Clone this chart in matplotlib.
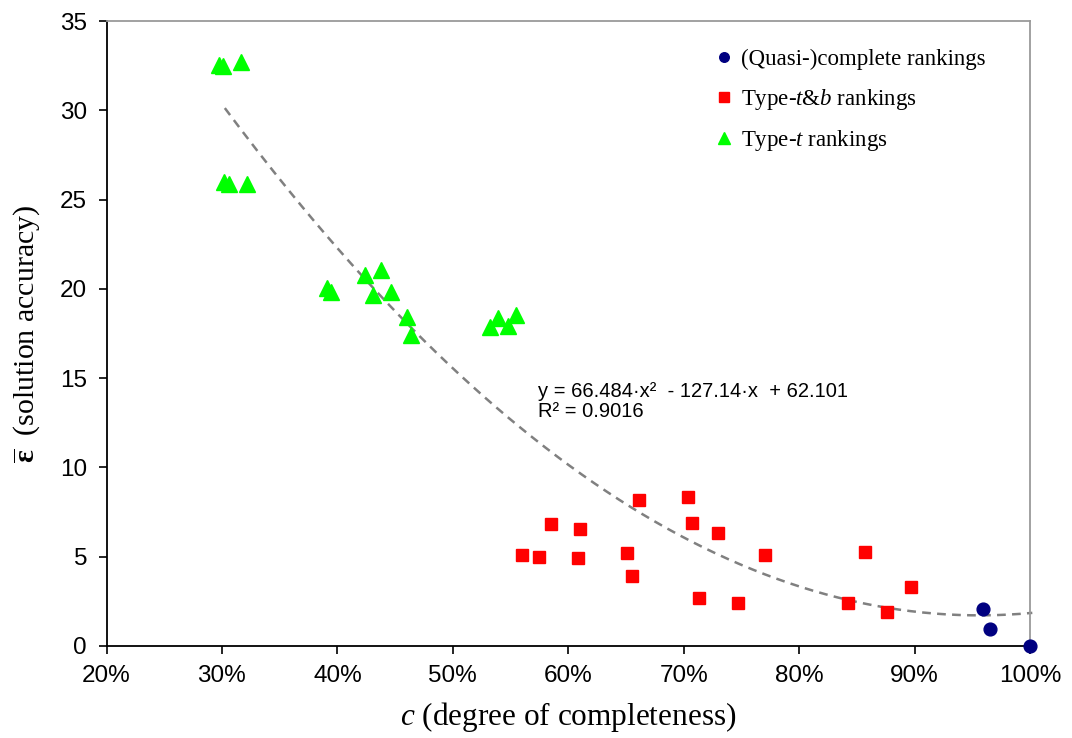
import numpy as np
import matplotlib
matplotlib.use("Agg")
import matplotlib.pyplot as plt
from matplotlib.ticker import FuncFormatter

plt.rcParams['mathtext.fontset'] = 'custom'
plt.rcParams['mathtext.rm'] = 'Liberation Serif'
plt.rcParams['mathtext.it'] = 'Liberation Serif:italic'
plt.rcParams['mathtext.bf'] = 'Liberation Serif:bold'

# Data (x = degree of completeness, y = solution accuracy)
complete_x = [0.9594, 0.9650, 1.0]
complete_y = [2.08, 0.95, 0.0]

tb_x = [0.5600, 0.5745, 0.5854, 0.6106, 0.6083, 0.6509, 0.6552, 0.6611, 0.7035,
        0.7069, 0.7298, 0.7133, 0.7473, 0.7704, 0.8567, 0.8971, 0.8422, 0.8760]
tb_y = [5.12, 4.97, 6.82, 6.54, 4.92, 5.20, 3.93, 8.17, 8.32,
        6.90, 6.34, 2.71, 2.43, 5.12, 5.25, 3.33, 2.43, 1.93]

t_x = [0.2977, 0.3011, 0.3165,
       0.3020, 0.3063, 0.3219,
       0.3907, 0.3941, 0.4238, 0.4377, 0.4310, 0.4466, 0.4599, 0.4642,
       0.5326, 0.5392, 0.5474, 0.5545]
t_y = [32.55, 32.5, 32.7,
       26.0, 25.85, 25.9,
       20.05, 19.8, 20.75, 21.05, 19.65, 19.8, 18.45, 17.4,
       17.85, 18.35, 17.9, 18.55]

# trend line as drawn in the chart (printed equation shown as text)
trend_coef = [66.484, -127.14, 62.5]
trend_range = [0.3025, 1.002]
equation_text = 'y = 66.484·x²  - 127.14·x  + 62.101\nR² = 0.9016'

x_ticks = [0.2, 0.3, 0.4, 0.5, 0.6, 0.7, 0.8, 0.9, 1.0]
y_ticks = [0, 5, 10, 15, 20, 25, 30, 35]

fig = plt.figure(figsize=(10.72, 7.38), dpi=100)
ax = fig.add_axes([106.5/1072, 1-646/738, (1030-106.5)/1072, (646-21)/738])

xf = np.linspace(trend_range[0], trend_range[1], 200)
yf = np.polyval(trend_coef, xf)
ax.plot(xf, yf, linestyle=(0, (3.5, 2.5)), color='#808080', linewidth=1.8, zorder=2, clip_on=False)

ax.plot(complete_x, complete_y, 'o', color='#000080', markersize=9.2, linestyle='none',
        label='(Quasi-)complete rankings', zorder=3, clip_on=False)
ax.plot(tb_x, tb_y, 's', color='#FF0000', markersize=9.3, linestyle='none',
        label='Type-$t$&$b$ rankings', zorder=3)
ax.plot(t_x, t_y, '^', color='#00FF00', markersize=12, linestyle='none',
        label='Type-$t$ rankings', zorder=3)

ax.set_xlim(0.2, 1.0)
ax.set_ylim(0, 35)
ax.set_xticks(x_ticks)
ax.set_yticks(y_ticks)
ax.xaxis.set_major_formatter(FuncFormatter(lambda v, p: f"{v*100:.0f}%"))

for s in ['left', 'bottom']:
    ax.spines[s].set_color('black')
    ax.spines[s].set_linewidth(1.3)
for s in ['top', 'right']:
    ax.spines[s].set_color('#9a9a9a')
    ax.spines[s].set_linewidth(1.3)

ax.tick_params(axis='both', direction='out', length=6, width=1.2, labelsize=17.5,
               colors='black')
for lab in ax.get_xticklabels() + ax.get_yticklabels():
    lab.set_fontfamily('Liberation Sans')
ax.tick_params(axis='x', pad=8)
ax.tick_params(axis='y', pad=8)

ax.set_xlabel('$c$ (degree of completeness)', fontsize=22.5, family='Liberation Serif', labelpad=9)
ax.set_ylabel(r'$\overline{\mathbf{\varepsilon}}$  (solution accuracy)', fontsize=21.5,
              family='Liberation Serif', labelpad=12)

leg = ax.legend(loc='upper left', frameon=False, prop={'family': 'Liberation Serif', 'size': 16.5},
                handletextpad=0.25, labelspacing=0.72, handlelength=1.0, markerscale=0.75,
                borderpad=0, borderaxespad=0,
                bbox_to_anchor=(712.5/1072, 1-49/738), bbox_transform=fig.transFigure)

ax.text(0.5736, 13.68, equation_text,
        fontsize=14.5, family='Liberation Sans', va='center', ha='left', linespacing=1.1)

fig.savefig('out.png', dpi=100)
